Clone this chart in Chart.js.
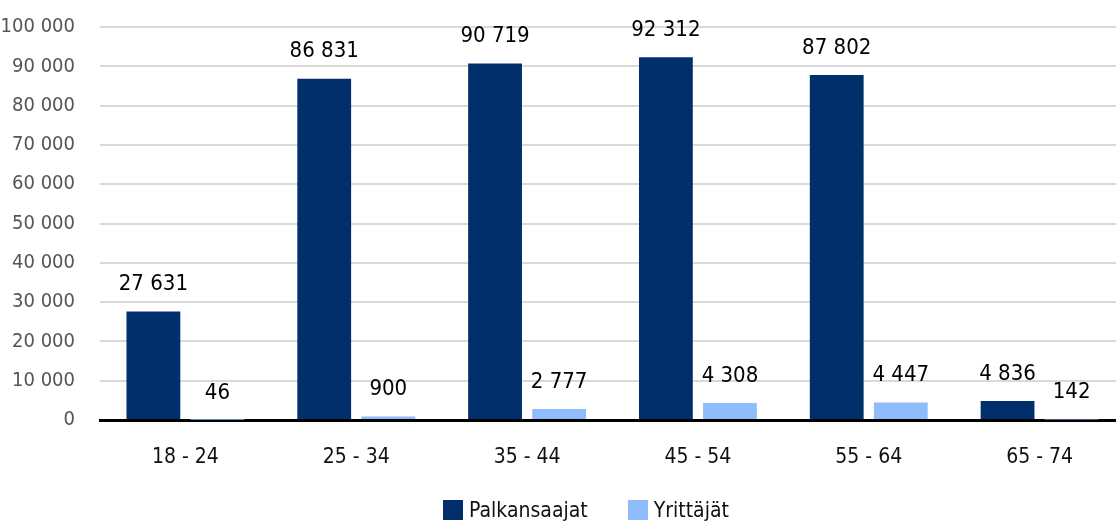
<!DOCTYPE html>
<html>
<head>
<meta charset="utf-8">
<script src="https://cdn.jsdelivr.net/npm/chart.js@4/dist/chart.umd.min.js"></script>
<style>
    html, body { margin: 0; padding: 0; background: #fff; overflow: hidden; }
    #wrap { position: relative; width: 1126px; height: 522px; }
    #chart { display: block; }
    #legend {
        position: absolute; top: 498px; left: 0; width: 1172px;
        display: flex; justify-content: center; gap: 40px;
        font-family: 'Liberation Sans Narrow', 'DejaVu Sans Condensed', sans-serif;
        font-size: 21px; color: #111;
    }
    .legend-item { display: flex; align-items: center; }
    .legend-box { width: 20px; height: 20px; margin-right: 6px; display: inline-block; }
</style>
</head>
<body>
<div id="wrap">
    <canvas id="chart" width="1126" height="522"></canvas>
    <div id="legend"></div>
</div>
<script>
const FONT = "'Liberation Sans Narrow', 'DejaVu Sans Condensed', sans-serif";

// Age groups
const categories = ['18 - 24', '25 - 34', '35 - 44', '45 - 54', '55 - 64', '65 - 74'];
const palkansaajat = [27631, 86831, 90719, 92312, 87802, 4836];
const yrittajat = [46, 900, 2777, 4308, 4447, 142];
const seriesNames = ['Palkansaajat', 'Yrittäjät'];
const seriesColors = ['#002f6c', '#8fbcfb'];

function fmt(v) {
    return String(v).replace(/\B(?=(\d{3})+(?!\d))/g, ' ');
}

// Value labels above the bars
const valueLabels = {
    id: 'valueLabels',
    afterDatasetsDraw(chart) {
        const ctx = chart.ctx;
        ctx.save();
        ctx.font = '22px ' + FONT;
        ctx.fillStyle = '#000';
        ctx.textAlign = 'center';
        ctx.textBaseline = 'bottom';
        chart.data.datasets.forEach((ds, i) => {
            chart.getDatasetMeta(i).data.forEach((bar, j) => {
                ctx.fillText(fmt(ds.data[j]), bar.x, bar.y - 16);
            });
        });
        ctx.restore();
    }
};

const chart = new Chart(document.getElementById('chart'), {
    type: 'bar',
    data: {
        labels: categories,
        datasets: [
            { label: seriesNames[0], data: palkansaajat, backgroundColor: seriesColors[0] },
            { label: seriesNames[1], data: yrittajat, backgroundColor: seriesColors[1] }
        ]
    },
    options: {
        responsive: false,
        animation: false,
        layout: { padding: { top: 27, right: 1, bottom: 0, left: 0 } },
        datasets: { bar: { categoryPercentage: 0.75, barPercentage: 0.84 } },
        plugins: {
            legend: { display: false },
            tooltip: { enabled: false }
        },
        scales: {
            x: {
                afterFit(scale) { scale.height = 102; },
                grid: { display: false },
                border: { display: true, color: '#000', width: 3 },
                ticks: { color: '#111', padding: 17, font: { family: FONT, size: 21 } }
            },
            y: {
                min: 0,
                max: 100000,
                afterFit(scale) { scale.width = 100; },
                // tick marks kept invisible, only used as the label offset
                grid: { color: '#d9d9d9', lineWidth: 2, drawTicks: true, tickLength: 25, tickColor: 'rgba(0,0,0,0)' },
                border: { display: false },
                ticks: {
                    stepSize: 10000,
                    padding: 0,
                    color: '#555',
                    font: { family: FONT, size: 20 },
                    callback: v => fmt(v)
                }
            }
        }
    },
    plugins: [valueLabels]
});

// HTML legend
const legend = document.getElementById('legend');
chart.data.datasets.forEach(ds => {
    legend.innerHTML += `<span class="legend-item"><span class="legend-box" style="background:${ds.backgroundColor}"></span>${ds.label}</span>`;
});
</script>
</body>
</html>
